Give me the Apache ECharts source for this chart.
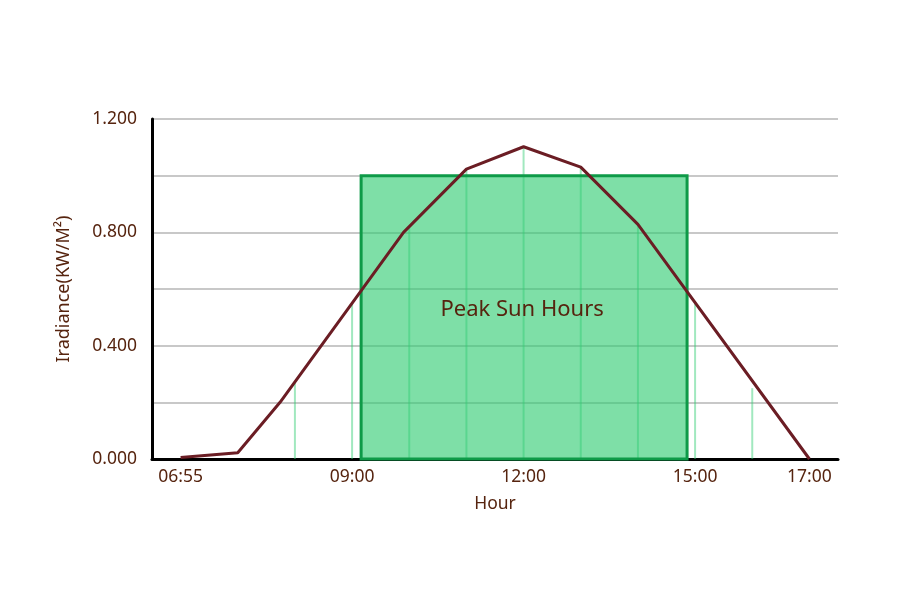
<!DOCTYPE html>
<html>
<head>
<meta charset="utf-8">
<script src="https://cdn.jsdelivr.net/npm/echarts@6/dist/echarts.min.js"></script>
<style>html,body{margin:0;padding:0;background:#fff;}#c{width:900px;height:600px;}</style>
</head>
<body>
<div id="c"></div>
<script>
// Irradiance curve (hour of day, kW/m²)
var curveHours  = [6.0, 7.0, 7.74, 9.9, 11.0, 12.0, 13.0, 14.0, 17.0];
var curveValues = [0.005, 0.022, 0.20, 0.80, 1.023, 1.102, 1.03, 0.828, 0.0];
// Hourly drop lines
var dropHours  = [8, 9, 10, 11, 12, 13, 14, 15, 16];
var dropValues = [0.268, 0.55, 0.815, 1.02, 1.10, 1.03, 0.826, 0.55, 0.25];
// Peak sun hours block
var peakStart = 9.158, peakEnd = 14.86, peakLevel = 1.0;
var peakLabel = 'Peak Sun Hours';
// Tick labels
var xTickValues = [6, 9, 12, 15, 17];
var xTickLabels = ['06:55', '09:00', '12:00', '15:00', '17:00'];
var yTickValues = [0, 0.4, 0.8, 1.2];
var yTickLabels = ['0.000', '0.400', '0.800', '1.200'];

var textColor = '#56240f';
var font = 'Noto Sans';

var curveData = curveHours.map(function (h, i) { return [h, curveValues[i]]; });
var dropData = dropHours.map(function (h, i) { return [h, dropValues[i]]; });

var chart = echarts.init(document.getElementById('c'));
chart.setOption({
  animation: false,
  backgroundColor: '#fff',
  textStyle: { fontFamily: font },
  grid: { left: 152, right: 62, top: 119, bottom: 141, containLabel: false },
  xAxis: {
    type: 'value', min: 5.5, max: 17.5, interval: 0.5,
    name: 'Hour', nameLocation: 'middle', nameGap: 36,
    nameTextStyle: { color: textColor, fontSize: 17.5, fontFamily: font },
    axisLine: { show: true, onZero: false, lineStyle: { color: '#000', width: 3 } },
    axisTick: { show: false },
    splitLine: { show: false },
    axisLabel: {
      color: textColor, fontSize: 17.5, fontFamily: font, margin: 9,
      formatter: function (v) {
        var i = xTickValues.indexOf(Math.round(v * 1000) / 1000);
        return i >= 0 ? xTickLabels[i] : '';
      }
    }
  },
  yAxis: {
    type: 'value', min: 0, max: 1.2, interval: 0.2,
    name: 'Iradiance(KW/M²)', nameLocation: 'middle', nameGap: 79, nameRotate: 90,
    nameTextStyle: { color: textColor, fontSize: 18, fontFamily: font },
    axisLine: { show: true, lineStyle: { color: '#000', width: 3 } },
    axisTick: { show: false },
    splitLine: { show: true, lineStyle: { color: '#c8c8c8', width: 2 } },
    axisLabel: {
      color: textColor, fontSize: 17.5, fontFamily: font, margin: 15,
      formatter: function (v) {
        for (var i = 0; i < yTickValues.length; i++) {
          if (Math.abs(yTickValues[i] - v) < 1e-6) return yTickLabels[i];
        }
        return '';
      }
    }
  },
  series: [
    {
      type: 'custom', name: 'drops', z: 1,
      data: dropData,
      renderItem: function (params, api) {
        var p0 = api.coord([api.value(0), 0]);
        var p1 = api.coord([api.value(0), api.value(1)]);
        return {
          type: 'line',
          shape: { x1: p0[0], y1: p0[1], x2: p1[0], y2: p1[1] },
          style: { stroke: 'rgba(46,204,113,0.45)', lineWidth: 2 }
        };
      }
    },
    {
      type: 'custom', name: 'peak', z: 2,
      data: [[peakStart, peakEnd, peakLevel]],
      renderItem: function (params, api) {
        var a = api.coord([api.value(0), api.value(2)]);
        var b = api.coord([api.value(1), 0]);
        return {
          type: 'group',
          children: [
            {
              type: 'rect',
              shape: { x: a[0], y: a[1], width: b[0] - a[0], height: b[1] - a[1] },
              style: { fill: 'rgba(46,204,113,0.62)', stroke: '#0e9a48', lineWidth: 3 }
            },
            {
              type: 'text',
              style: {
                text: peakLabel, x: (a[0] + b[0]) / 2 - 2, y: (a[1] + b[1]) / 2 - 8,
                align: 'center', verticalAlign: 'middle',
                fill: textColor, fontSize: 22, fontFamily: font
              }
            }
          ]
        };
      }
    },
    {
      type: 'line', name: 'irradiance', z: 3,
      data: curveData,
      symbol: 'none',
      lineStyle: { color: '#6b1d24', width: 3 }
    }
  ]
});
</script>
</body>
</html>
